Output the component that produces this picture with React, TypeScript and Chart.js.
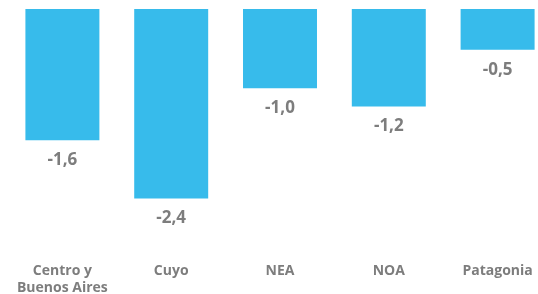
import React, { useEffect, useRef } from "react";
import { Chart, registerables } from "chart.js";

Chart.register(...registerables);

const categories: (string | string[])[] = [["Centro y", "Buenos Aires"], "Cuyo", "NEA", "NOA", "Patagonia"];
const values: number[] = [-1.64, -2.37, -0.99, -1.22, -0.51];
const valueLabels: string[] = ["-1,6", "-2,4", "-1,0", "-1,2", "-0,5"];

const BAR_COLOR = "#37bbeb";
const TEXT_COLOR = "#7d7d7d";
const FONT = "'Open Sans', 'DejaVu Sans', sans-serif";

const valueLabelPlugin = {
  id: "valueLabels",
  afterDatasetsDraw(chart: any) {
    const ctx = chart.ctx;
    const meta = chart.getDatasetMeta(0);
    ctx.save();
    ctx.fillStyle = TEXT_COLOR;
    ctx.font = `bold 17px ${FONT}`;
    ctx.textAlign = "center";
    ctx.textBaseline = "middle";
    meta.data.forEach((bar: any, i: number) => {
      ctx.fillText(valueLabels[i], bar.x, bar.y + 20);
    });
    ctx.restore();
  },
};

export default function App() {
  const canvasRef = useRef<HTMLCanvasElement | null>(null);

  useEffect(() => {
    if (!canvasRef.current) return;
    const chart = new Chart(canvasRef.current, {
      type: "bar",
      data: {
        labels: categories,
        datasets: [
          {
            data: values,
            backgroundColor: BAR_COLOR,
            borderWidth: 0,
            barPercentage: 0.68,
            categoryPercentage: 1,
          },
        ],
      },
      options: {
        animation: false,
        responsive: true,
        maintainAspectRatio: false,
        layout: { padding: { top: 1, left: 0, right: 0, bottom: 0 } },
        plugins: {
          legend: { display: false },
          tooltip: { enabled: false },
        },
        scales: {
          x: {
            grid: { display: false, drawTicks: false },
            border: { display: false },
            ticks: {
              color: TEXT_COLOR,
              font: { family: FONT, size: 14, weight: "bold", lineHeight: 1.2 },
              padding: 0,
              maxRotation: 0,
              autoSkip: false,
            },
            afterFit(axis: any) {
              axis.height = 31;
            },
          },
          y: {
            display: false,
            min: -3.175,
            max: 0,
          },
        },
      },
      plugins: [valueLabelPlugin],
    });
    return () => chart.destroy();
  }, []);

  return (
    <div style={{ position: "fixed", left: 0, top: 0, width: 538, height: 294, overflow: "hidden" }}>
      <div style={{ position: "absolute", left: 8, top: 8, width: 544, height: 286 }}>
        <canvas ref={canvasRef} />
      </div>
    </div>
  );
}
